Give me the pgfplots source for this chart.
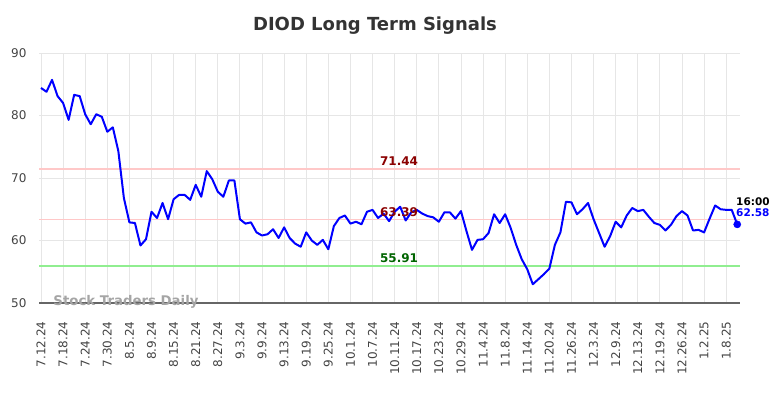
\documentclass[border=0pt]{standalone}
\usepackage{pgfplots}
\usepackage{pgfplotstable}
\pgfplotsset{compat=1.18}
\usepackage{fontspec}
\setmainfont{DejaVu Sans}
\definecolor{linepink}{RGB}{255,200,200}
\definecolor{linegreen}{RGB}{144,238,144}
\definecolor{darkred}{RGB}{139,0,0}
\definecolor{darkgreen}{RGB}{0,100,0}
\definecolor{ticktext}{RGB}{68,68,68}
\definecolor{titletext}{RGB}{51,51,51}
\definecolor{gridgray}{RGB}{230,230,230}
\definecolor{wmgray}{RGB}{165,165,165}

\pgfplotstableread{
x y
0 84.4
1 83.8
2 85.7
3 83.1
4 82.0
5 79.3
6 83.3
7 83.1
8 80.2
9 78.6
10 80.2
11 79.8
12 77.4
13 78.1
14 74.3
15 66.8
16 62.9
17 62.8
18 59.2
19 60.2
20 64.6
21 63.6
22 66.0
23 63.4
24 66.6
25 67.3
26 67.3
27 66.5
28 68.9
29 67.0
30 71.1
31 69.8
32 67.8
33 67.0
34 69.6
35 69.6
36 63.4
37 62.7
38 62.9
39 61.3
40 60.8
41 61.0
42 61.8
43 60.4
44 62.1
45 60.4
46 59.5
47 59.0
48 61.3
49 60.0
50 59.3
51 60.1
52 58.6
53 62.3
54 63.6
55 64.0
56 62.7
57 63.0
58 62.6
59 64.6
60 64.9
61 63.6
62 64.3
63 63.1
64 64.6
65 65.4
66 63.2
67 64.5
68 64.9
69 64.3
70 63.9
71 63.7
72 63.0
73 64.5
74 64.5
75 63.5
76 64.7
77 61.5
78 58.5
79 60.1
80 60.2
81 61.2
82 64.2
83 62.8
84 64.2
85 62.0
86 59.3
87 57.0
88 55.4
89 53.0
90 53.8
91 54.6
92 55.5
93 59.3
94 61.3
95 66.2
96 66.1
97 64.2
98 65.0
99 66.0
100 63.4
101 61.2
102 59.0
103 60.7
104 63.0
105 62.1
106 64.0
107 65.2
108 64.7
109 64.9
110 63.8
111 62.8
112 62.5
113 61.6
114 62.5
115 63.9
116 64.7
117 64.0
118 61.6
119 61.7
120 61.3
121 63.5
122 65.6
123 65.0
124 64.9
125 64.9
126 62.58
}\datatable

\begin{document}
\begin{tikzpicture}[x=1pt,y=1pt]
\path[use as bounding box] (0,0) rectangle (784,398);
\begin{axis}[
  at={(39.5pt,95pt)}, anchor=south west, scale only axis,
  width=700.5pt, height=250pt,
  xmin=-0.27, xmax=126.5, ymin=50, ymax=90,
  axis x line*=bottom, axis y line*=left,
  x axis line style={-, draw=black!60, line width=1.2pt},
  y axis line style={draw=none},
  xtick={0,4,...,124},
  xticklabels={7.12.24,7.18.24,7.24.24,7.30.24,8.5.24,8.9.24,8.15.24,8.21.24,8.27.24,9.3.24,9.9.24,9.13.24,9.19.24,9.25.24,10.1.24,10.7.24,10.11.24,10.17.24,10.23.24,10.29.24,11.4.24,11.8.24,11.14.24,11.20.24,11.26.24,12.3.24,12.9.24,12.13.24,12.19.24,12.26.24,1.2.25,1.8.25},
  ytick={50,60,70,80,90},
  major tick length=0pt,
  grid=major,
  major grid style={draw=gridgray, line width=0.9pt},
  /pgf/number format/assume math mode=true,
  xticklabel style={rotate=90, anchor=east, font=\fontsize{12}{12}\selectfont, text=ticktext},
  yticklabel style={font=\fontsize{12}{12}\selectfont, text=ticktext},
  xticklabel shift=15pt,
  yticklabel shift=9.5pt,
  clip=false,
]
\addplot[linepink, line width=1.5pt, forget plot] coordinates {(-0.27,71.44) (126.5,71.44)};
\addplot[linepink, line width=1.5pt, forget plot] coordinates {(-0.27,63.39) (126.5,63.39)};
\addplot[linegreen, line width=1.5pt, forget plot] coordinates {(-0.27,55.91) (126.5,55.91)};
\addplot[blue, line width=2pt, line join=round, mark=none] table[x=x,y=y]{\datatable};
\addplot[only marks, mark=*, mark size=3.6pt, blue] coordinates {(126,62.58)};
\node[anchor=base, inner sep=0, yshift=3pt, font=\bfseries\fontsize{12}{12}\selectfont, text=darkred] at (axis cs:64.8,71.44) {71.44};
\node[anchor=base, inner sep=0, yshift=3pt, font=\bfseries\fontsize{12}{12}\selectfont, text=darkred] at (axis cs:64.8,63.39) {63.39};
\node[anchor=base, inner sep=0, yshift=4pt, font=\bfseries\fontsize{12}{12}\selectfont, text=darkgreen] at (axis cs:64.8,55.91) {55.91};
\end{axis}
\node[anchor=center, inner sep=0, font=\bfseries\fontsize{18}{18}\selectfont, text=titletext] at (375,372) {DIOD Long Term Signals};
\node[anchor=base west, inner sep=0, font=\bfseries\fontsize{10.5}{10.5}\selectfont, text=black] at (736,192.5) {16:00};
\node[anchor=base west, inner sep=0, font=\bfseries\fontsize{10.5}{10.5}\selectfont, text=blue] at (736,181.2) {62.58};
\node[anchor=center, inner sep=0, font=\bfseries\fontsize{13.3}{13.3}\selectfont, text=wmgray] at (126,96.3) {Stock Traders Daily};
\end{tikzpicture}
\end{document}
